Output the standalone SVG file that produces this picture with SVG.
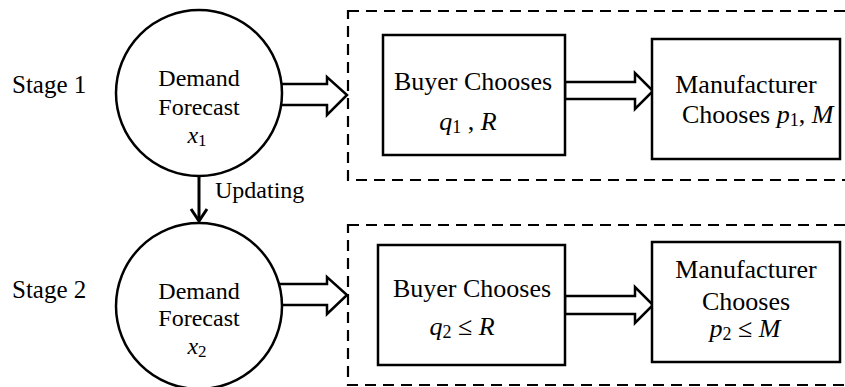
<svg xmlns="http://www.w3.org/2000/svg" width="845" height="387" viewBox="0 0 845 387">
<style>
.t{font-family:"Liberation Serif","Times New Roman",serif;fill:#000}
.s{font-size:25px}
.c{font-size:24px}
.b{font-size:26px}
.m{font-style:italic}
.node{fill:#fff;stroke:#000;stroke-width:2.5}
.dash{fill:none;stroke:#000;stroke-width:2.2;stroke-dasharray:11 7}
.blk{fill:#fff;stroke:#000;stroke-width:2.5;stroke-linejoin:miter}
</style>
<rect width="845" height="387" fill="#fff"/>
<g id="stage-labels">
<text class="t s" x="12" y="93">Stage 1</text>
<text class="t s" x="12" y="298">Stage 2</text>
</g>
<g id="stage1-group"><rect class="dash" x="348" y="11" width="510" height="169"/></g>
<g id="stage2-group"><rect class="dash" x="348" y="225" width="510" height="160"/></g>
<g id="connectors">
<polygon class="blk" points="275,84 327,84 327,77 347,95 327,115 327,105 275,105"/>
<polygon class="blk" points="275,284 327,284 327,277 347,295 327,314 327,305 275,305"/>
<polygon class="blk" points="565,82 635,82 635,73 653,91 635,109 635,99 565,99"/>
<polygon class="blk" points="565,296 635,296 635,287 653,305 635,323 635,314 565,314"/>
<line x1="199" y1="176" x2="199" y2="221" stroke="#000" stroke-width="3"/>
<path d="M191,209 L199,221 L207,209" fill="none" stroke="#000" stroke-width="3"/>
<text class="t c" x="215" y="198">Updating</text>
</g>
<g id="forecast1">
<circle class="node" cx="199" cy="93" r="83"/>
<text class="t c" x="199" y="86" text-anchor="middle">Demand</text>
<text class="t c" x="199" y="115" text-anchor="middle">Forecast</text>
<text class="t" font-size="24" x="197" y="143" text-anchor="middle"><tspan class="m">x</tspan><tspan font-size="17" dy="3">1</tspan></text>
</g>
<g id="forecast2">
<circle class="node" cx="199" cy="306" r="83"/>
<text class="t c" x="199" y="299" text-anchor="middle">Demand</text>
<text class="t c" x="199" y="326" text-anchor="middle">Forecast</text>
<text class="t" font-size="24" x="197" y="354" text-anchor="middle"><tspan class="m">x</tspan><tspan font-size="17" dy="3">2</tspan></text>
</g>
<g id="buyer1">
<rect class="node" x="383" y="35" width="182" height="120"/>
<text class="t b" x="473" y="90" text-anchor="middle">Buyer Chooses</text>
<text class="t b" x="468" y="130" text-anchor="middle"><tspan class="m">q</tspan><tspan font-size="18" dy="3">1</tspan><tspan dy="-3"> , </tspan><tspan class="m">R</tspan></text>
</g>
<g id="manufacturer1">
<rect class="node" x="652" y="39" width="188" height="120"/>
<text class="t b" x="746" y="93" text-anchor="middle">Manufacturer</text>
<text class="t b" x="682" y="123">Chooses <tspan class="m">p</tspan><tspan font-size="18" dy="3">1</tspan><tspan dy="-3">, </tspan><tspan class="m">M</tspan></text>
</g>
<g id="buyer2">
<rect class="node" x="378" y="245" width="187" height="120"/>
<text class="t b" x="472" y="297" text-anchor="middle">Buyer Chooses</text>
<text class="t b" x="462" y="335" text-anchor="middle"><tspan class="m">q</tspan><tspan font-size="18" dy="3">2</tspan><tspan dy="-3"> ≤ </tspan><tspan class="m">R</tspan></text>
</g>
<g id="manufacturer2">
<rect class="node" x="652" y="242" width="188" height="120"/>
<text class="t b" x="746" y="278" text-anchor="middle">Manufacturer</text>
<text class="t b" x="746" y="310" text-anchor="middle">Chooses</text>
<text class="t b" x="745" y="337" text-anchor="middle"><tspan class="m">p</tspan><tspan font-size="18" dy="3">2</tspan><tspan dy="-3"> ≤ </tspan><tspan class="m">M</tspan></text>
</g>
</svg>
